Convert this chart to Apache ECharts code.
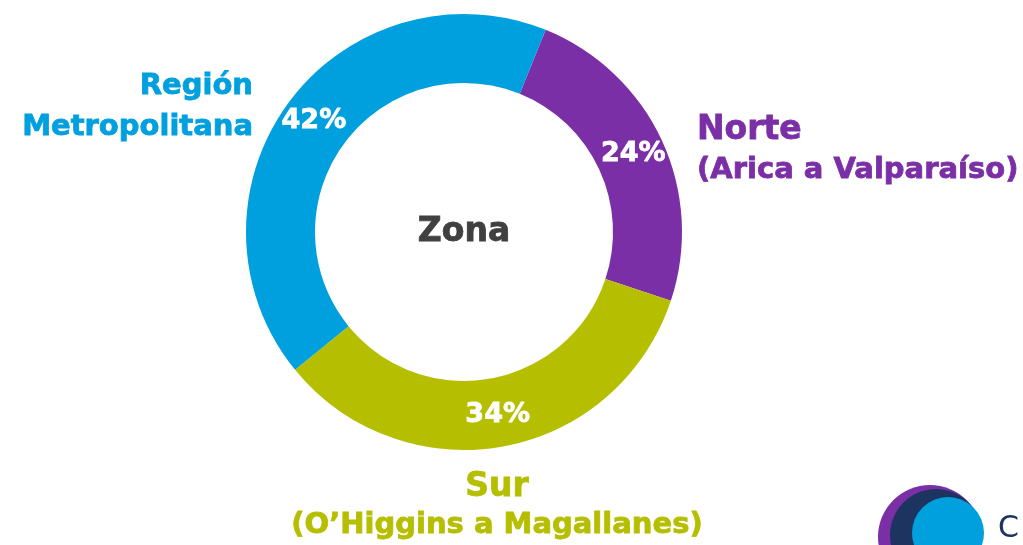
<!DOCTYPE html>
<html>
<head>
<meta charset="utf-8">
<script src="https://cdn.jsdelivr.net/npm/echarts@6/dist/echarts.min.js"></script>
<style>
  html, body { margin: 0; padding: 0; background: #fff; }
  #chart { width: 1023px; height: 545px; }
</style>
</head>
<body>
<div id="chart"></div>
<script>
// datos de la torta
const zonas = ['Norte', 'Sur', 'Región Metropolitana']
const subtitulos = ['(Arica a Valparaíso)', '(O’Higgins a Magallanes)', '']
const porcentajes = [24, 34, 42]
const colores = ['#7B2FA6', '#B5BF00', '#00A0DF']
const titulo = 'Zona'

const FONT = '"DejaVu Sans", sans-serif'

const chart = echarts.init(document.getElementById('chart'))

function txt(text, x, y, color, size, align, weight) {
  const bold = (weight || 'bold') === 'bold'
  return {
    type: 'text',
    style: {
      text: text,
      x: x,
      y: y,
      fill: color,
      // trazo fino del mismo color para engrosar un poco la letra
      stroke: bold ? color : null,
      lineWidth: bold ? 0.8 : 0,
      font: (weight || 'bold') + ' ' + size + 'px ' + FONT,
      textAlign: align,
      textVerticalAlign: 'middle'
    }
  }
}

const graphics = [
  txt(titulo, 464, 232, '#404040', 33, 'center'),
  // Región Metropolitana (dos líneas, alineado a la derecha)
  txt('Región', 253, 86, colores[2], 29, 'right'),
  txt('Metropolitana', 253, 127, colores[2], 29, 'right'),
  // Norte
  txt(zonas[0], 697, 130, colores[0], 33, 'left'),
  txt(subtitulos[0], 697, 170, colores[0], 29, 'left'),
  // Sur
  txt(zonas[1], 497, 487, colores[1], 33, 'center'),
  txt(subtitulos[1], 497, 525, colores[1], 29, 'center'),
  // logo (aprox.)
  { type: 'circle', shape: { cx: 930, cy: 537, r: 52 }, style: { fill: '#7B2FA6' } },
  { type: 'circle', shape: { cx: 936, cy: 535, r: 46 }, style: { fill: '#1D3461' } },
  { type: 'circle', shape: { cx: 948, cy: 533, r: 36 }, style: { fill: '#00A0DF' } },
  txt('C', 998, 529, '#1D3461', 30, 'left', 'normal')
]

chart.setOption({
  animation: false,
  graphic: graphics,
  series: [{
    type: 'pie',
    center: [464, 232],
    radius: [149, 218],
    startAngle: 68,
    clockwise: true,
    silent: true,
    label: {
      show: true,
      position: 'inside',
      color: '#fff',
      fontFamily: FONT,
      fontWeight: 'bold',
      fontSize: 27,
      textBorderColor: '#fff',
      textBorderWidth: 0.8,
      formatter: p => p.value + '%'
    },
    labelLine: { show: false },
    itemStyle: { borderWidth: 0 },
    data: zonas.map((z, i) => ({
      name: z,
      value: porcentajes[i],
      itemStyle: { color: colores[i] }
    }))
  }]
})
</script>
</body>
</html>
